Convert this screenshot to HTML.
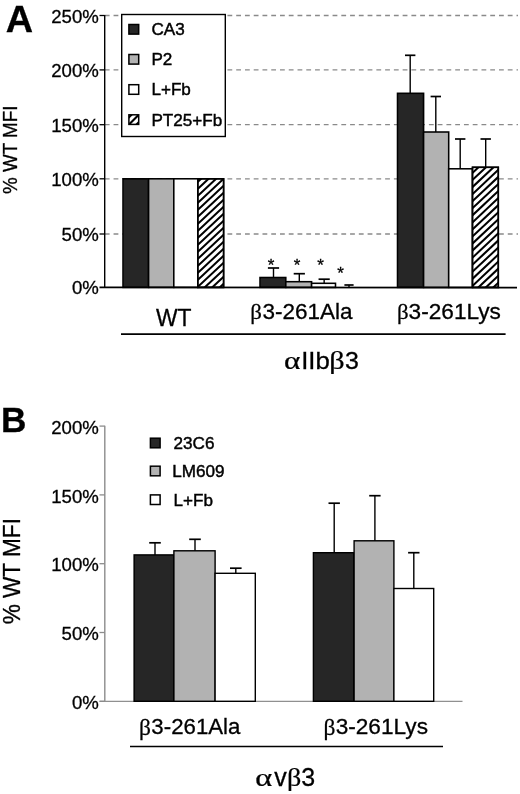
<!DOCTYPE html>
<html><head><meta charset="utf-8"><title>chart</title>
<style>
html,body{margin:0;padding:0;background:#fff;}
body{width:520px;height:794px;overflow:hidden;font-family:"Liberation Sans",sans-serif;}
svg{display:block;}
text{font-family:"Liberation Sans",sans-serif;fill:#000;stroke:#000;stroke-width:0.3px;}
.b{font-weight:bold;fill:#000;}
</style></head><body>
<svg width="520" height="794" viewBox="0 0 520 794">
<defs><filter id="soft" x="0" y="0" width="520" height="794" filterUnits="userSpaceOnUse"><feGaussianBlur stdDeviation="0.42"/></filter></defs>
<rect width="520" height="794" fill="#fff"/>
<g filter="url(#soft)">

<line x1="104.8" y1="234.00" x2="518" y2="234.00" stroke="#8a8a8a" stroke-width="1.3" stroke-dasharray="4.8 3.96"/>
<line x1="104.8" y1="178.80" x2="518" y2="178.80" stroke="#8a8a8a" stroke-width="1.3" stroke-dasharray="4.8 3.96"/>
<line x1="104.8" y1="124.70" x2="518" y2="124.70" stroke="#8a8a8a" stroke-width="1.3" stroke-dasharray="4.8 3.96"/>
<line x1="104.8" y1="69.90" x2="518" y2="69.90" stroke="#8a8a8a" stroke-width="1.3" stroke-dasharray="4.8 3.96"/>
<line x1="104.8" y1="15.50" x2="518" y2="15.50" stroke="#8a8a8a" stroke-width="1.3" stroke-dasharray="4.8 3.96"/>
<rect x="123" y="178.80" width="25.60" height="108.60" fill="#262626" stroke="#000" stroke-width="1.55"/>
<rect x="148.6" y="178.80" width="25.20" height="108.60" fill="#b2b2b2" stroke="#000" stroke-width="1.55"/>
<rect x="173.8" y="178.80" width="24.00" height="108.60" fill="#fff" stroke="#000" stroke-width="1.55"/>
<rect x="197.8" y="178.80" width="25.80" height="108.60" fill="#fff" stroke="#000" stroke-width="1.55"/>
<clipPath id="h1"><rect x="197.8" y="178.8" width="25.799999999999983" height="108.59999999999997"/></clipPath>
<g clip-path="url(#h1)" stroke="#000" stroke-width="2.05">
<line x1="195.8" y1="183.66" x2="225.6" y2="155.95"/>
<line x1="195.8" y1="190.66" x2="225.6" y2="162.95"/>
<line x1="195.8" y1="197.66" x2="225.6" y2="169.95"/>
<line x1="195.8" y1="204.66" x2="225.6" y2="176.95"/>
<line x1="195.8" y1="211.66" x2="225.6" y2="183.95"/>
<line x1="195.8" y1="218.66" x2="225.6" y2="190.95"/>
<line x1="195.8" y1="225.66" x2="225.6" y2="197.95"/>
<line x1="195.8" y1="232.66" x2="225.6" y2="204.95"/>
<line x1="195.8" y1="239.66" x2="225.6" y2="211.95"/>
<line x1="195.8" y1="246.66" x2="225.6" y2="218.95"/>
<line x1="195.8" y1="253.66" x2="225.6" y2="225.95"/>
<line x1="195.8" y1="260.66" x2="225.6" y2="232.95"/>
<line x1="195.8" y1="267.66" x2="225.6" y2="239.95"/>
<line x1="195.8" y1="274.66" x2="225.6" y2="246.95"/>
<line x1="195.8" y1="281.66" x2="225.6" y2="253.95"/>
<line x1="195.8" y1="288.66" x2="225.6" y2="260.95"/>
<line x1="195.8" y1="295.66" x2="225.6" y2="267.95"/>
<line x1="195.8" y1="302.66" x2="225.6" y2="274.95"/>
<line x1="195.8" y1="309.66" x2="225.6" y2="281.95"/>
<line x1="195.8" y1="316.66" x2="225.6" y2="288.95"/>
</g>
<rect x="197.8" y="178.80" width="25.80" height="108.60" fill="none" stroke="#000" stroke-width="1.55"/>
<line x1="273.5" y1="277.50" x2="273.5" y2="268.00" stroke="#000" stroke-width="1.4"/><line x1="267.9" y1="268.00" x2="279.1" y2="268.00" stroke="#000" stroke-width="1.7"/>
<rect x="260" y="277.50" width="25.80" height="9.90" fill="#262626" stroke="#000" stroke-width="1.55"/>
<line x1="299.30000000000007" y1="281.70" x2="299.30000000000007" y2="273.70" stroke="#000" stroke-width="1.4"/><line x1="293.70000000000005" y1="273.70" x2="304.9000000000001" y2="273.70" stroke="#000" stroke-width="1.7"/>
<rect x="285.8" y="281.70" width="25.80" height="5.70" fill="#b2b2b2" stroke="#000" stroke-width="1.55"/>
<line x1="324.15000000000003" y1="283.30" x2="324.15000000000003" y2="279.20" stroke="#000" stroke-width="1.4"/><line x1="318.55" y1="279.20" x2="329.75000000000006" y2="279.20" stroke="#000" stroke-width="1.7"/>
<rect x="311.6" y="283.30" width="23.90" height="4.10" fill="#fff" stroke="#000" stroke-width="1.55"/>
<line x1="349" y1="287.00" x2="349" y2="285.00" stroke="#000" stroke-width="1.4"/><line x1="344.4" y1="285.00" x2="353.6" y2="285.00" stroke="#000" stroke-width="1.7"/>
<text x="271" y="270.6" font-size="17" text-anchor="middle">*</text>
<text x="297" y="270.6" font-size="17" text-anchor="middle">*</text>
<text x="320.5" y="270.6" font-size="17" text-anchor="middle">*</text>
<text x="340.5" y="278.6" font-size="17" text-anchor="middle">*</text>
<line x1="410.2" y1="93.30" x2="410.2" y2="55.30" stroke="#000" stroke-width="1.4"/><line x1="405.0" y1="55.30" x2="415.4" y2="55.30" stroke="#000" stroke-width="1.7"/>
<rect x="397.5" y="93.30" width="26.10" height="194.10" fill="#262626" stroke="#000" stroke-width="1.55"/>
<line x1="435.8" y1="132.00" x2="435.8" y2="96.50" stroke="#000" stroke-width="1.4"/><line x1="430.6" y1="96.50" x2="441.0" y2="96.50" stroke="#000" stroke-width="1.7"/>
<rect x="423.6" y="132.00" width="25.10" height="155.40" fill="#b2b2b2" stroke="#000" stroke-width="1.55"/>
<line x1="460.2" y1="168.80" x2="460.2" y2="139.00" stroke="#000" stroke-width="1.4"/><line x1="455.0" y1="139.00" x2="465.4" y2="139.00" stroke="#000" stroke-width="1.7"/>
<rect x="448.7" y="168.80" width="23.80" height="118.60" fill="#fff" stroke="#000" stroke-width="1.55"/>
<line x1="485.7" y1="167.30" x2="485.7" y2="139.00" stroke="#000" stroke-width="1.4"/><line x1="480.5" y1="139.00" x2="490.9" y2="139.00" stroke="#000" stroke-width="1.7"/>
<rect x="472.5" y="167.30" width="25.80" height="120.10" fill="#fff" stroke="#000" stroke-width="1.55"/>
<clipPath id="h2"><rect x="472.5" y="167.3" width="25.80000000000001" height="120.09999999999997"/></clipPath>
<g clip-path="url(#h2)" stroke="#000" stroke-width="2.05">
<line x1="470.5" y1="174.78" x2="500.3" y2="146.77"/>
<line x1="470.5" y1="181.84" x2="500.3" y2="153.83"/>
<line x1="470.5" y1="188.90" x2="500.3" y2="160.89"/>
<line x1="470.5" y1="195.96" x2="500.3" y2="167.95"/>
<line x1="470.5" y1="203.02" x2="500.3" y2="175.01"/>
<line x1="470.5" y1="210.08" x2="500.3" y2="182.07"/>
<line x1="470.5" y1="217.14" x2="500.3" y2="189.13"/>
<line x1="470.5" y1="224.20" x2="500.3" y2="196.19"/>
<line x1="470.5" y1="231.26" x2="500.3" y2="203.25"/>
<line x1="470.5" y1="238.32" x2="500.3" y2="210.31"/>
<line x1="470.5" y1="245.38" x2="500.3" y2="217.37"/>
<line x1="470.5" y1="252.44" x2="500.3" y2="224.43"/>
<line x1="470.5" y1="259.50" x2="500.3" y2="231.49"/>
<line x1="470.5" y1="266.56" x2="500.3" y2="238.55"/>
<line x1="470.5" y1="273.62" x2="500.3" y2="245.61"/>
<line x1="470.5" y1="280.68" x2="500.3" y2="252.67"/>
<line x1="470.5" y1="287.74" x2="500.3" y2="259.73"/>
<line x1="470.5" y1="294.80" x2="500.3" y2="266.79"/>
<line x1="470.5" y1="301.86" x2="500.3" y2="273.85"/>
<line x1="470.5" y1="308.92" x2="500.3" y2="280.91"/>
<line x1="470.5" y1="315.98" x2="500.3" y2="287.97"/>
</g>
<rect x="472.5" y="167.30" width="25.80" height="120.10" fill="none" stroke="#000" stroke-width="1.55"/>
<line x1="104.7" y1="14.90" x2="104.7" y2="288.10" stroke="#000" stroke-width="1.4"/>
<line x1="99.5" y1="287.40" x2="517" y2="287.60" stroke="#000" stroke-width="1.9"/>
<line x1="99.5" y1="234.00" x2="104.7" y2="234.00" stroke="#000" stroke-width="1.3"/>
<line x1="99.5" y1="178.80" x2="104.7" y2="178.80" stroke="#000" stroke-width="1.3"/>
<line x1="99.5" y1="124.70" x2="104.7" y2="124.70" stroke="#000" stroke-width="1.3"/>
<line x1="99.5" y1="69.90" x2="104.7" y2="69.90" stroke="#000" stroke-width="1.3"/>
<line x1="99.5" y1="15.50" x2="104.7" y2="15.50" stroke="#000" stroke-width="1.3"/>
<text x="98.8" y="294.40" font-size="18.6" text-anchor="end">0%</text>
<text x="98.8" y="241.00" font-size="18.6" text-anchor="end">50%</text>
<text x="98.8" y="185.80" font-size="18.6" text-anchor="end">100%</text>
<text x="98.8" y="131.70" font-size="18.6" text-anchor="end">150%</text>
<text x="98.8" y="76.90" font-size="18.6" text-anchor="end">200%</text>
<text x="98.8" y="22.50" font-size="18.6" text-anchor="end">250%</text>
<rect x="121.7" y="14.5" width="103.6" height="122" fill="#fff" stroke="#000" stroke-width="1.4"/>
<rect x="128.9" y="24.5" width="9.8" height="9.6" fill="#262626" stroke="#000" stroke-width="1.5"/>
<text x="151.4" y="34.60" font-size="17.1" style="stroke-width:0.45px">CA3</text>
<rect x="128.9" y="54.5" width="9.8" height="9.6" fill="#b2b2b2" stroke="#000" stroke-width="1.5"/>
<text x="151.4" y="64.90" font-size="17.1" style="stroke-width:0.45px">P2</text>
<rect x="128.9" y="84.7" width="9.8" height="9.6" fill="#fff" stroke="#000" stroke-width="1.5"/>
<text x="151.4" y="95.20" font-size="17.1" style="stroke-width:0.45px">L+Fb</text>
<rect x="128.9" y="114.8" width="9.8" height="9.6" fill="#fff" stroke="#000" stroke-width="1.5"/>
<text x="151.4" y="125.50" font-size="17.1" style="stroke-width:0.45px">PT25+Fb</text>
<clipPath id="h3"><rect x="128.9" y="114.8" width="9.8" height="9.6"/></clipPath>
<g clip-path="url(#h3)" stroke="#000" stroke-width="2.1"><line x1="128" y1="125.5" x2="139.5" y2="114"/><line x1="128" y1="118.2" x2="132.5" y2="113.7"/><line x1="135" y1="126" x2="140" y2="121"/></g>
<text class="b" transform="translate(5.8,31.5) scale(1.04,1)" font-size="36.4">A</text>
<text transform="translate(17.2,149.8) rotate(-90) scale(1,1.06)" font-size="18.8" text-anchor="middle">% WT MFI</text>
<text transform="translate(173.8,325.5) scale(0.945,1)" font-size="24.2" text-anchor="middle">WT</text>
<text transform="translate(250.2,319.1) scale(1.04,1)" font-size="22" style="font-family:'Liberation Serif',serif;stroke-width:0.25px">β</text>
<text transform="translate(262.4,319.2) scale(1.0,1)" font-size="22.5">3-261Ala</text>
<text transform="translate(396.9,319.1) scale(1.04,1)" font-size="22" style="font-family:'Liberation Serif',serif;stroke-width:0.25px">β</text>
<text transform="translate(408.6,319.2) scale(1.0,1)" font-size="22.65">3-261Lys</text>
<line x1="121" y1="334.1" x2="505.6" y2="334.1" stroke="#000" stroke-width="1.8"/>
<text transform="translate(284.1,369.3) scale(1.29,1)" font-size="24.2" style="font-family:'Liberation Serif',serif;stroke-width:0.25px">α</text>
<text transform="translate(301.15,369.4) scale(1.068,1)" font-size="24.1">IIb</text>
<text transform="translate(329.2,369.4) scale(1.2,1)" font-size="25.2" style="font-family:'Liberation Serif',serif;stroke-width:0.25px">β</text>
<text transform="translate(345.05,369.4) scale(1.037,1)" font-size="24.1">3</text>
<line x1="104.8" y1="425.80" x2="104.8" y2="701.30" stroke="#8c8c8c" stroke-width="1.4"/>
<line x1="99.5" y1="701.30" x2="462.5" y2="701.30" stroke="#909090" stroke-width="1.2"/>
<line x1="99.5" y1="701.30" x2="104.8" y2="701.30" stroke="#8c8c8c" stroke-width="1.3"/>
<text x="98.8" y="708.90" font-size="18.6" text-anchor="end">0%</text>
<line x1="99.5" y1="632.50" x2="104.8" y2="632.50" stroke="#8c8c8c" stroke-width="1.3"/>
<text x="98.8" y="640.10" font-size="18.6" text-anchor="end">50%</text>
<line x1="99.5" y1="563.70" x2="104.8" y2="563.70" stroke="#8c8c8c" stroke-width="1.3"/>
<text x="98.8" y="571.30" font-size="18.6" text-anchor="end">100%</text>
<line x1="99.5" y1="494.90" x2="104.8" y2="494.90" stroke="#8c8c8c" stroke-width="1.3"/>
<text x="98.8" y="502.50" font-size="18.6" text-anchor="end">150%</text>
<line x1="99.5" y1="426.10" x2="104.8" y2="426.10" stroke="#8c8c8c" stroke-width="1.3"/>
<text x="98.8" y="433.70" font-size="18.6" text-anchor="end">200%</text>
<line x1="155" y1="554.90" x2="155" y2="542.80" stroke="#000" stroke-width="1.4"/><line x1="149.2" y1="542.80" x2="160.8" y2="542.80" stroke="#000" stroke-width="1.7"/>
<rect x="134.1" y="554.90" width="39.80" height="146.40" fill="#262626" stroke="#000" stroke-width="1.4"/>
<line x1="195" y1="550.80" x2="195" y2="539.30" stroke="#000" stroke-width="1.4"/><line x1="189.2" y1="539.30" x2="200.8" y2="539.30" stroke="#000" stroke-width="1.7"/>
<rect x="173.9" y="550.80" width="41.20" height="150.50" fill="#b2b2b2" stroke="#000" stroke-width="1.4"/>
<line x1="235.8" y1="573.30" x2="235.8" y2="568.20" stroke="#000" stroke-width="1.4"/><line x1="230.0" y1="568.20" x2="241.60000000000002" y2="568.20" stroke="#000" stroke-width="1.7"/>
<rect x="215.1" y="573.30" width="40.20" height="128.00" fill="#fff" stroke="#000" stroke-width="1.4"/>
<line x1="334.2" y1="552.70" x2="334.2" y2="503.20" stroke="#000" stroke-width="1.4"/><line x1="328.5" y1="503.20" x2="339.9" y2="503.20" stroke="#000" stroke-width="1.7"/>
<rect x="313.4" y="552.70" width="40.70" height="148.60" fill="#262626" stroke="#000" stroke-width="1.4"/>
<line x1="374.9" y1="540.80" x2="374.9" y2="495.70" stroke="#000" stroke-width="1.4"/><line x1="369.2" y1="495.70" x2="380.59999999999997" y2="495.70" stroke="#000" stroke-width="1.7"/>
<rect x="354.1" y="540.80" width="39.80" height="160.50" fill="#b2b2b2" stroke="#000" stroke-width="1.4"/>
<line x1="413.8" y1="588.50" x2="413.8" y2="552.70" stroke="#000" stroke-width="1.4"/><line x1="408.1" y1="552.70" x2="419.5" y2="552.70" stroke="#000" stroke-width="1.7"/>
<rect x="393.9" y="588.50" width="39.80" height="112.80" fill="#fff" stroke="#000" stroke-width="1.4"/>
<rect x="150.4" y="438.2" width="9.7" height="9.6" fill="#262626" stroke="#000" stroke-width="1.5"/>
<text x="173.6" y="448.6" font-size="17.1" style="stroke-width:0.45px">23C6</text>
<rect x="150.4" y="466.2" width="9.7" height="9.6" fill="#b2b2b2" stroke="#000" stroke-width="1.5"/>
<text x="172.2" y="477.0" font-size="17.1" style="stroke-width:0.45px">LM609</text>
<rect x="150.4" y="494.9" width="9.7" height="9.6" fill="#fff" stroke="#000" stroke-width="1.5"/>
<text x="173.6" y="505.5" font-size="17.1" style="stroke-width:0.45px">L+Fb</text>
<text class="b" transform="translate(1.0,432.4) scale(1.0,1)" font-size="35.2">B</text>
<text transform="translate(20.4,571.2) rotate(-90) scale(1,1.09)" font-size="22.6" text-anchor="middle">% WT MFI</text>
<text transform="translate(138.95,734.5) scale(1.02,1)" font-size="23" style="font-family:'Liberation Serif',serif;stroke-width:0.25px">β</text>
<text transform="translate(151.35,734.2) scale(1.0,1)" font-size="22.25">3-261Ala</text>
<text transform="translate(323.5,734.5) scale(1.02,1)" font-size="23" style="font-family:'Liberation Serif',serif;stroke-width:0.25px">β</text>
<text transform="translate(335.65,734.3) scale(1.0,1)" font-size="22.65">3-261Lys</text>
<line x1="130" y1="746.5" x2="443" y2="746.5" stroke="#000" stroke-width="1.7"/>
<text transform="translate(255.25,786.2) scale(1.33,1)" font-size="24.4" style="font-family:'Liberation Serif',serif;stroke-width:0.25px">α</text>
<text transform="translate(274.3,786.3) scale(1.0,1)" font-size="25">v</text>
<text transform="translate(286.9,786.0) scale(1.1,1)" font-size="25.6" style="font-family:'Liberation Serif',serif;stroke-width:0.25px">β</text>
<text transform="translate(301.15,786.3) scale(1.0,1)" font-size="25">3</text>
</g></svg></body></html>
